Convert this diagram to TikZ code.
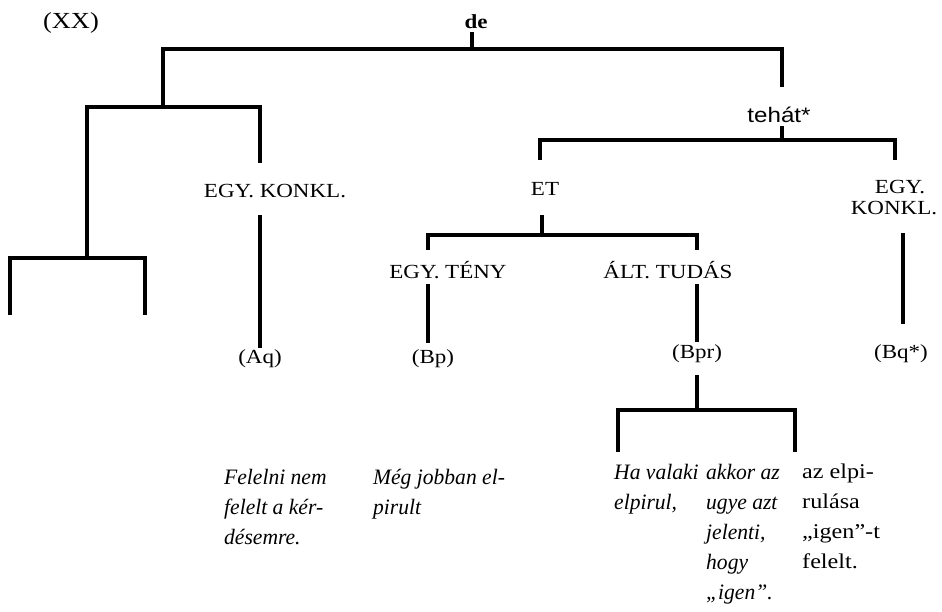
\documentclass[tikz,border=0pt]{standalone}
\usepackage{fontspec}
\setmainfont{Liberation Serif}[FakeStretch=1.15]
\newfontfamily\labsans{Liberation Sans}[FakeStretch=1.15]
\newfontfamily\exfont{Liberation Serif}[FakeStretch=0.98]
\begin{document}
\begin{tikzpicture}[x=1pt,y=-1pt,
  lbl/.style={font=\fontsize{20}{19}\selectfont, inner sep=0pt, anchor=base},
  ex/.style={font=\fontsize{22}{30}\exfont\itshape, inner sep=0pt, align=left, anchor=north west},
  exup/.style={font=\fontsize{21}{30}\selectfont, inner sep=0pt, align=left, anchor=north west},
  br/.style={line width=3.2pt, line join=miter}]
\useasboundingbox (0,0) rectangle (942,611);

% labels
\node[lbl, font=\fontsize{23}{23}\selectfont] (xx) at (71,28) {(XX)};
\node[lbl, font=\fontsize{20}{20}\selectfont\bfseries] (de) at (476,28) {de};
\node[lbl, font=\fontsize{21}{21}\labsans] (teh) at (779,122) {tehát*};
\node[lbl] (egyk1) at (275,197) {EGY. KONKL.};
\node[lbl] (et) at (545,195) {ET};
\node[lbl] (egyk2a) at (900,193) {EGY.};
\node[lbl] (egyk2b) at (894,214) {KONKL.};
\node[lbl] (teny) at (448,278) {EGY. TÉNY};
\node[lbl] (altt) at (668,278) {ÁLT. TUDÁS};
\node[lbl] (aq) at (260,363) {(Aq)};
\node[lbl] (bp) at (433,363) {(Bp)};
\node[lbl] (bpr) at (697,358) {(Bpr)};
\node[lbl] (bq) at (901,358) {(Bq*)};

% example texts
\node[ex] (t1) at (224,469) {Felelni nem\\felelt a kér-\\désemre.};
\node[ex] (t2) at (373,469) {Még jobban el-\\pirult};
\node[ex] (t3) at (614,464) {Ha valaki\\elpirul,};
\node[ex] (t4) at (706,464) {akkor az\\ugye azt\\jelenti,\\hogy\\„igen”.};
\node[exup] (t5) at (802,464) {az elpi-\\rulása\\„igen”-t\\felelt.};

% junction coordinates
\coordinate (deT) at (472,32);
\coordinate (deB) at (472,49);
\coordinate (l1) at (163,107);
\coordinate (r1) at (782,49);
\coordinate (tehT) at (782,87);
\coordinate (tehB) at (782,126);
\coordinate (tehJ) at (782,140);
\coordinate (b2L) at (87,258);
\coordinate (b2R) at (260,107);
\coordinate (egyT) at (260,163);
\coordinate (b3L) at (10,315);
\coordinate (b3M) at (145,258);
\coordinate (b3R) at (145,315);
\coordinate (egyB) at (260,215);
\coordinate (aqT) at (260,348);
\coordinate (b4L) at (540,160);
\coordinate (b4R) at (895,140);
\coordinate (egy2T) at (895,160);
\coordinate (etB) at (542,215);
\coordinate (etJ) at (542,235);
\coordinate (b5L) at (428,250);
\coordinate (b5R) at (697,235);
\coordinate (alttT) at (697,250);
\coordinate (tenyB) at (428,284);
\coordinate (bpT) at (428,343);
\coordinate (alttB) at (697,284);
\coordinate (bprT) at (697,342);
\coordinate (egy2B) at (903,233);
\coordinate (bqT) at (903,324);
\coordinate (bprB) at (697,375);
\coordinate (bprJ) at (697,410);
\coordinate (b6L) at (618,452);
\coordinate (b6M) at (795,410);
\coordinate (b6R) at (795,452);

% connectors
\draw[br] (deT) -- (deB);
\draw[br] (l1) |- (r1) -- (tehT);
\draw[br] (b2L) |- (b2R) -- (egyT);
\draw[br] (b3L) |- (b3M) -- (b3R);
\draw[br] (egyB) -- (aqT);
\draw[br] (tehB) -- (tehJ);
\draw[br] (b4L) |- (b4R) -- (egy2T);
\draw[br] (etB) -- (etJ);
\draw[br] (b5L) |- (b5R) -- (alttT);
\draw[br] (tenyB) -- (bpT);
\draw[br] (alttB) -- (bprT);
\draw[br] (egy2B) -- (bqT);
\draw[br] (bprB) -- (bprJ);
\draw[br] (b6L) |- (b6M) -- (b6R);
\end{tikzpicture}
\end{document}
